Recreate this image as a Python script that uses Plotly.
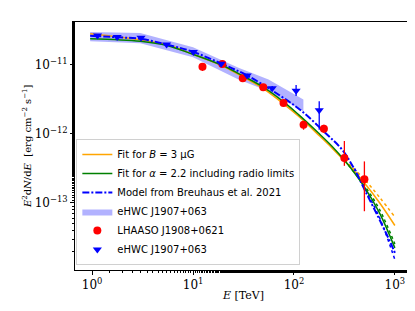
import plotly.graph_objects as go

# ---------------- data (E in TeV, flux in erg cm^-2 s^-1) ----------------
curve_E = [0.955, 3.0, 5.5, 10.0, 19.4, 31.6, 50, 79, 111, 175, 238, 323, 376, 500, 708, 1000]
orange_F = [2.81e-11, 2.30e-11, 1.95e-11, 1.42e-11, 9.68e-12, 6.61e-12, 4.49e-12, 2.72e-12,
            1.80e-12, 9.68e-13, 6.27e-13, 3.93e-13, 3.16e-13, 1.95e-13, 1.00e-13, 4.72e-14]
green_F = [2.38e-11, 2.19e-11, 1.91e-11, 1.42e-11, 9.84e-12, 6.84e-12, 4.72e-12, 2.91e-12,
           1.905e-12, 1.03e-12, 6.64e-13, 4.02e-13, 3.04e-13, 1.70e-13, 7.08e-14, 2.24e-14]

dot_E = [316, 500, 708, 1000]
orange_dot_F = [4.27e-13, 2.19e-13, 1.20e-13, 6.27e-14]
green_dot_F = [4.17e-13, 1.78e-13, 7.94e-14, 2.55e-14]

model_E = [0.955, 1.77, 3.05, 5.47, 10.0, 19.0, 34.4, 70, 120, 205, 300, 391, 510, 746, 938, 1000]
model_F = [2.63e-11, 2.51e-11, 2.37e-11, 1.97e-11, 1.54e-11, 1.045e-11, 7.0e-12, 3.72e-12,
           2.13e-12, 1.03e-12, 5.92e-13, 3.21e-13, 1.48e-13, 4.85e-14, 2.38e-14, 1.9e-14]
model_dot_E = [400, 500, 708, 1000]
model_dot_F = [3.16e-13, 1.66e-13, 6.03e-14, 1.51e-14]

band_E = [0.955, 3.0, 10.0, 28.2, 56, 124]
band_hi = [2.98e-11, 2.88e-11, 1.79e-11, 9.06e-12, 6.12e-12, 3.14e-12]
band_lo = [2.19e-11, 2.06e-11, 1.285e-11, 6.12e-12, 4.16e-12, 2.13e-12]

lhaaso_E = [12.4, 19.5, 31.1, 49.6, 78.8, 124.5, 198, 316, 499]
lhaaso_F = [9.35e-12, 1.03e-11, 6.4e-12, 4.75e-12, 2.81e-12, 1.36e-12, 1.19e-12, 4.49e-13, 2.2e-13]
lhaaso_up = [1.2e-12, 0.5e-12, 0.3e-12, 0.2e-12, 0.15e-12, 0.18e-12, 0.17e-12, 3.4e-13, 1.8e-13]
lhaaso_dn = [1.2e-12, 0.5e-12, 0.3e-12, 0.2e-12, 0.15e-12, 0.21e-12, 0.16e-12, 1.04e-13, 1.44e-13]

ehwc_E = [1.13, 1.77, 3.05, 5.47, 10.07, 19.0, 34.4, 60.9, 105, 178]
ehwc_F = [2.66e-11, 2.52e-11, 2.46e-11, 1.97e-11, 1.54e-11, 1.04e-11, 7.0e-12, 4.6e-12, 4.2e-12, 2.2e-12]
ehwc_up = [1.0e-12, 1.0e-12, 1.0e-12, 0.8e-12, 0.6e-12, 0.45e-12, 0.4e-12, 0.35e-12, 0.9e-12, 0.78e-12]
ehwc_dn = [1.0e-12, 1.0e-12, 1.0e-12, 0.8e-12, 0.6e-12, 0.45e-12, 0.4e-12, 0.35e-12, 0.65e-12, 1.05e-12]

x_tickvals = [1, 10, 100, 1000]
x_ticktext = ["10<sup>0</sup>", "10<sup>1</sup>", "10<sup>2</sup>", "10<sup>3</sup>"]
y_tickvals = [1e-13, 1e-12, 1e-11]
y_ticktext = ["10<sup>−13</sup>", "10<sup>−12</sup>", "10<sup>−11</sup>"]

labels = {
    "orange": "Fit for <i>B</i> = 3 μG",
    "green": "Fit for <i>α</i> = 2.2 including radio limits",
    "model": "Model from Breuhaus et al. 2021",
    "band": "eHWC J1907+063",
    "lhaaso": "LHAASO J1908+0621",
    "ehwc": "eHWC J1907+063",
}

ORANGE = "#FFA500"
GREEN = "#008000"
BLUE = "#0000FF"
RED = "#FF0000"

fig = go.Figure()

# band
fig.add_trace(go.Scatter(
    x=band_E + band_E[::-1], y=band_hi + band_lo[::-1],
    fill="toself", fillcolor="rgba(0,0,255,0.3)", mode="lines",
    line=dict(width=0, color="rgba(0,0,255,0.3)"),
    name=labels["band"], legendrank=4, hoverinfo="skip"))

# dotted extensions
fig.add_trace(go.Scatter(x=dot_E, y=orange_dot_F, mode="lines", showlegend=False,
                         line=dict(color=ORANGE, width=1.5, dash="dot", shape="spline")))
fig.add_trace(go.Scatter(x=dot_E, y=green_dot_F, mode="lines", showlegend=False,
                         line=dict(color=GREEN, width=1.5, dash="dot", shape="spline")))
fig.add_trace(go.Scatter(x=model_dot_E, y=model_dot_F, mode="lines", showlegend=False,
                         line=dict(color=BLUE, width=1.5, dash="dot", shape="spline")))

# fits
fig.add_trace(go.Scatter(x=curve_E, y=orange_F, mode="lines", name=labels["orange"], legendrank=1,
                         line=dict(color=ORANGE, width=1.5, shape="spline")))
fig.add_trace(go.Scatter(x=curve_E, y=green_F, mode="lines", name=labels["green"], legendrank=2,
                         line=dict(color=GREEN, width=1.5, shape="spline")))
fig.add_trace(go.Scatter(x=model_E, y=model_F, mode="lines", name=labels["model"], legendrank=3,
                         line=dict(color=BLUE, width=2, dash="7px,2px,2px,2px", shape="spline")))

# data points
fig.add_trace(go.Scatter(
    x=lhaaso_E, y=lhaaso_F, mode="markers", name=labels["lhaaso"], legendrank=5,
    marker=dict(color=RED, size=8, symbol="circle"),
    error_y=dict(type="data", array=lhaaso_up, arrayminus=lhaaso_dn, color=RED, thickness=1.3, width=0)))
fig.add_trace(go.Scatter(
    x=ehwc_E, y=ehwc_F, mode="markers", name=labels["ehwc"], legendrank=6,
    marker=dict(color=BLUE, size=8, symbol="triangle-down"),
    error_y=dict(type="data", array=ehwc_up, arrayminus=ehwc_dn, color=BLUE, thickness=1.3, width=0)))

axis_common = dict(
    type="log", showgrid=False, zeroline=False, showline=True, linecolor="black", linewidth=1,
    mirror=True, ticks="outside", ticklen=4, tickwidth=0.8, tickcolor="black",
    minor=dict(ticks="outside", ticklen=2, tickwidth=0.6, tickcolor="black", showgrid=False),
    tickfont=dict(family="DejaVu Serif", size=12, color="black"),
)

fig.update_xaxes(range=[-0.17, 3.15], tickmode="array", tickvals=x_tickvals, ticktext=x_ticktext,
                 **axis_common)
fig.update_yaxes(range=[-13.97, -10.38], tickmode="array", tickvals=y_tickvals, ticktext=y_ticktext,
                 **axis_common)

fig.update_layout(
    width=415, height=311,
    margin=dict(l=67, r=13, t=14, b=49),
    paper_bgcolor="white", plot_bgcolor="white",
    font=dict(family="DejaVu Sans", color="black"),
    legend=dict(x=0.004, y=0.02, xanchor="left", yanchor="bottom",
                bgcolor="white", bordercolor="#d0d0d0", borderwidth=1,
                font=dict(family="DejaVu Sans", size=10, color="black"),
                tracegroupgap=0, itemwidth=30),
    annotations=[
        dict(text="<i>E</i><sup>2</sup>d<i>N</i>/d<i>E</i>  [erg cm<sup>−2</sup> s<sup>−1</sup>]",
             xref="paper", yref="paper", x=-0.143, y=0.5, xanchor="center", yanchor="middle",
             textangle=-90, showarrow=False, font=dict(family="DejaVu Serif", size=10)),
        dict(text="<i>E</i> [TeV]", xref="paper", yref="paper", x=0.5, y=-0.101,
             xanchor="center", yanchor="middle", showarrow=False,
             font=dict(family="DejaVu Serif", size=11)),
    ],
)

fig.write_html("out.html")
